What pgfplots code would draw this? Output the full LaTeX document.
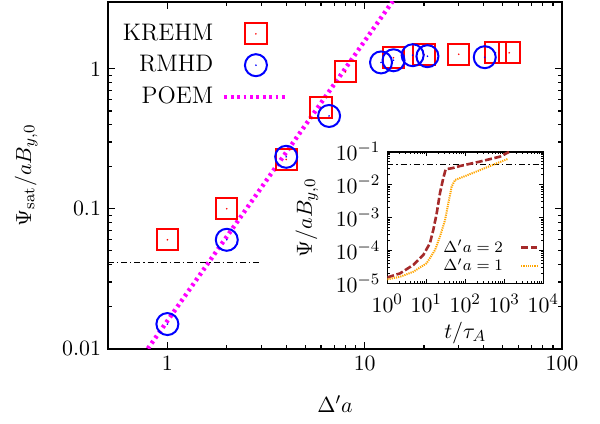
\documentclass[border=0pt]{standalone}
\usepackage{fontspec}
\usepackage{pgfplots}
\pgfplotsset{compat=1.18}
\pgfdeclareplotmark{sqdot}{%
  \pgfpathrectangle{\pgfqpoint{-\pgfplotmarksize}{-\pgfplotmarksize}}{\pgfqpoint{2\pgfplotmarksize}{2\pgfplotmarksize}}%
  \pgfusepathqstroke
  \pgfpathcircle{\pgfpointorigin}{0.45pt}%
  \pgfusepathqfill
}
\pgfdeclareplotmark{cdot}{%
  \pgfpathcircle{\pgfpointorigin}{\pgfplotmarksize}%
  \pgfusepathqstroke
  \pgfpathcircle{\pgfpointorigin}{0.45pt}%
  \pgfusepathqfill
}
\definecolor{poem}{RGB}{255,0,255}
\definecolor{darkred}{RGB}{165,42,42}
\definecolor{myorange}{RGB}{255,165,0}
\newcommand\mf{\fontsize{10.95}{13}\selectfont}
\newcommand\lf{\fontsize{12}{14}\selectfont}
\newcommand\insf{\fontsize{10.95}{12}\selectfont}
\newcommand\legf{\fontsize{8}{9}\selectfont}
\begin{document}
\begin{tikzpicture}
\path[use as bounding box] (-54bp,-37.65bp) rectangle (246bp,174.35bp);
\begin{axis}[
  at={(0,0)}, anchor=south west,
  scale only axis, width=227bp, height=173.35bp,
  xmode=log, ymode=log,
  xmin=0.5, xmax=100, ymin=0.01, ymax=3,
  xtick={1,10,100}, xticklabels={1,10,100},
  ytick={0.01,0.1,1}, yticklabels={0.01,0.1,1},
  tick align=inside, major tick length=3.5bp, minor tick length=2bp,
  axis line style={line width=0.8bp},
  every tick/.style={black, line width=0.6bp},
  xlabel={$\Delta' a$}, ylabel={$\Psi_{\mathrm{sat}}/aB_{y,0}$},
  label style={font=\mf},
  xlabel style={yshift=-5.5bp},
  ylabel style={yshift=5.5bp},
  tick label style={font=\mf},
  legend plot pos=right, legend cell align=right,
  legend style={draw=none, fill=none, font=\lf, row sep=2bp,
    at={(axis description cs:0.01,0.96)}, anchor=north west},
  legend image code/.code={\path (0bp,0bp); \draw[mark repeat=2,mark phase=2,#1] plot coordinates {(2.5bp,0bp)(18.25bp,0bp)(34bp,0bp)};},
]
\addplot[only marks, mark=sqdot, mark size=5.3bp, mark options={draw=red, fill=red, line width=1bp, solid}]
  coordinates {(1,0.06) (2,0.1) (4,0.225) (6,0.53) (8,0.95) (14,1.2) (20,1.26) (30,1.27) (46,1.3) (54,1.3)};
\addlegendentry{KREHM}
\addplot[only marks, mark=cdot, mark size=5.5bp, mark options={draw=blue, fill=blue, line width=1bp, solid}]
  coordinates {(1,0.015) (2,0.06) (4,0.235) (6.6,0.46) (12.1,1.11) (14,1.15) (17.5,1.25) (20.8,1.23) (40.6,1.21)};
\addlegendentry{RMHD}
\addplot[poem, line width=2.2bp, dash pattern=on 1.4bp off 1.8bp]
  coordinates {(0.7,0.00774) (20,6.32)};
\addlegendentry{POEM}
\addplot[black, line width=0.5bp, dash pattern=on 3bp off 1.5bp on 0.6bp off 1.5bp, forget plot]
  coordinates {(0.5,0.041) (2.95,0.041)};
\end{axis}
\begin{axis}[
  at={(139.65bp,32.7bp)}, anchor=south west,
  scale only axis, width=78bp, height=65.8bp,
  xmode=log, ymode=log,
  xmin=1, xmax=1e4, ymin=1e-5, ymax=1e-1,
  xtick={1,10,100,1000,10000}, ytick={1e-5,1e-4,1e-3,1e-2,1e-1},
  tick align=inside, major tick length=2.2bp, minor tick length=1.2bp,
  axis line style={line width=0.8bp},
  every tick/.style={black, line width=0.5bp},
  xlabel={$t/\tau_A$}, ylabel={$\Psi/aB_{y,0}$},
  label style={font=\mf},
  xlabel style={yshift=2bp},
  ylabel style={yshift=2bp},
  tick label style={font=\insf},
  xticklabel style={yshift=-2bp},
  legend plot pos=right, legend cell align=right,
  legend style={draw=none, fill=none, font=\legf, row sep=-2.5bp,
    at={(axis description cs:0.293,0.01)}, anchor=south west},
  legend image code/.code={\path (0bp,0bp); \draw[#1] (6.5bp,0bp) -- (14.3bp,0bp);},
]
\addplot[black, line width=0.5bp, dash pattern=on 3bp off 1.5bp on 0.6bp off 1.5bp, forget plot]
  coordinates {(1,0.041) (10000,0.041)};
\addplot[darkred, line width=1.3bp, dash pattern=on 3.5bp off 1.3bp]
  coordinates {(1,1.51e-5) (2.12,2.0e-5) (4.65,3.63e-5) (8.38,7.24e-5) (12.4,1.66e-4) (15.1,4.17e-4) (18.5,1.35e-3) (22.4,5.5e-3) (27.3,0.0158) (31.4,0.0292) (35,0.0300) (44.7,0.0313) (73.1,0.0367) (238,0.0501) (776,0.0708) (1320,0.098)};
\addlegendentry{$\Delta' a = 2$}
\addplot[myorange, line width=1bp, dash pattern=on 0.6bp off 0.5bp]
  coordinates {(1,1.32e-5) (2.12,1.58e-5) (4.65,2.24e-5) (10.2,4.07e-5) (16.7,1.02e-4) (22.4,2.63e-4) (30.2,8.3e-4) (36.7,2.69e-3) (44.7,8.7e-3) (54.5,0.0138) (109,0.019) (355,0.0335) (1230,0.0603)};
\addlegendentry{$\Delta' a = 1$}
\end{axis}
\end{tikzpicture}
\end{document}
